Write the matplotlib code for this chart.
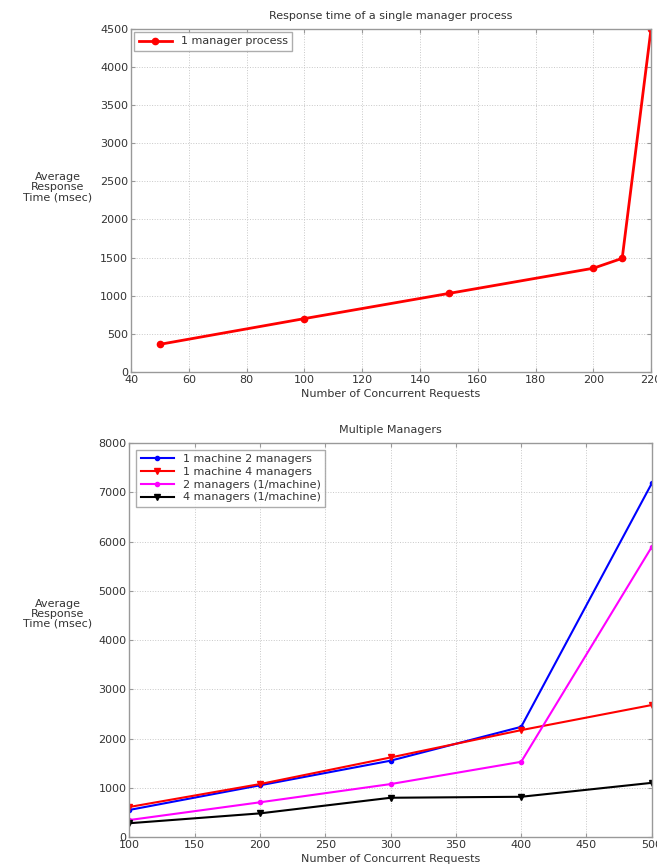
import numpy as np
import matplotlib.pyplot as plt

# Top chart data: single manager process
single_x = [50, 100, 150, 200, 210, 220]
single_y = [363, 700, 1030, 1360, 1490, 4500]

# Bottom chart data: multiple managers
multi_x = [100, 200, 300, 400, 500]
m1_2mgr = [550, 1050, 1550, 2237, 7180]
m1_4mgr = [610, 1075, 1615, 2170, 2680]
mgr2_each = [345, 705, 1075, 1527, 5890]
mgr4_each = [280, 480, 797, 817, 1100]

TXT = "#333333"
FS = 8


def style_axes(ax):
   for sp in ax.spines.values():
      sp.set_color("#999999")
      sp.set_linewidth(1.0)
   ax.tick_params(direction="in", length=3, labelsize=FS, colors="#999999",
                  labelcolor=TXT, top=True, right=True, pad=2)
   ax.grid(True, linestyle=":", color="#c8c8c8", linewidth=0.7)
   ax.set_axisbelow(True)


fig = plt.figure(figsize=(6.57, 8.68), dpi=100)

# top panel
ax1 = fig.add_axes([0.1994, 0.5714, 0.7916, 0.3956])
ax1.plot(single_x, single_y, color="red", linewidth=2, marker="o",
         markersize=4.5, label="1 manager process")
ax1.set_xlim(40, 220)
ax1.set_ylim(0, 4500)
ax1.set_xticks(np.arange(40, 221, 20))
ax1.set_yticks(np.arange(0, 4501, 500))
style_axes(ax1)
ax1.set_title("Response time of a single manager process", fontsize=FS,
              color=TXT, pad=7)
ax1.set_xlabel("Number of Concurrent Requests", fontsize=FS, color=TXT, labelpad=3)
leg1 = ax1.legend(loc="upper left", fontsize=FS, frameon=True, fancybox=False,
                  handlelength=3, borderaxespad=0.3)
leg1.get_frame().set_edgecolor("#999999")
for t in leg1.get_texts():
   t.set_color(TXT)
fig.text(0.088, 0.784, "Average\nResponse\nTime (msec)", fontsize=FS,
         color=TXT, ha="center", va="center", linespacing=1.0)

# bottom panel
ax2 = fig.add_axes([0.197, 0.0357, 0.795, 0.4539])
ax2.plot(multi_x, m1_2mgr, color="blue", linewidth=1.5, marker="o",
         markersize=3, label="1 machine 2 managers")
ax2.plot(multi_x, m1_4mgr, color="red", linewidth=1.5, marker="v",
         markersize=4, label="1 machine 4 managers")
ax2.plot(multi_x, mgr2_each, color="magenta", linewidth=1.5, marker="o",
         markersize=3, label="2 managers (1/machine)")
ax2.plot(multi_x, mgr4_each, color="black", linewidth=1.5, marker="v",
         markersize=4, label="4 managers (1/machine)")
ax2.set_xlim(100, 500)
ax2.set_ylim(0, 8000)
ax2.set_xticks(np.arange(100, 501, 50))
ax2.set_yticks(np.arange(0, 8001, 1000))
style_axes(ax2)
ax2.set_title("Multiple Managers", fontsize=FS, color=TXT, pad=7)
ax2.set_xlabel("Number of Concurrent Requests", fontsize=FS, color=TXT, labelpad=3)
leg2 = ax2.legend(loc="upper left", fontsize=FS, frameon=True, fancybox=False,
                  handlelength=3, borderaxespad=0.6, labelspacing=0.25)
leg2.get_frame().set_edgecolor("#999999")
for t in leg2.get_texts():
   t.set_color(TXT)
fig.text(0.088, 0.293, "Average\nResponse\nTime (msec)", fontsize=FS,
         color=TXT, ha="center", va="center", linespacing=1.0)

fig.savefig("out.png", dpi=100)
